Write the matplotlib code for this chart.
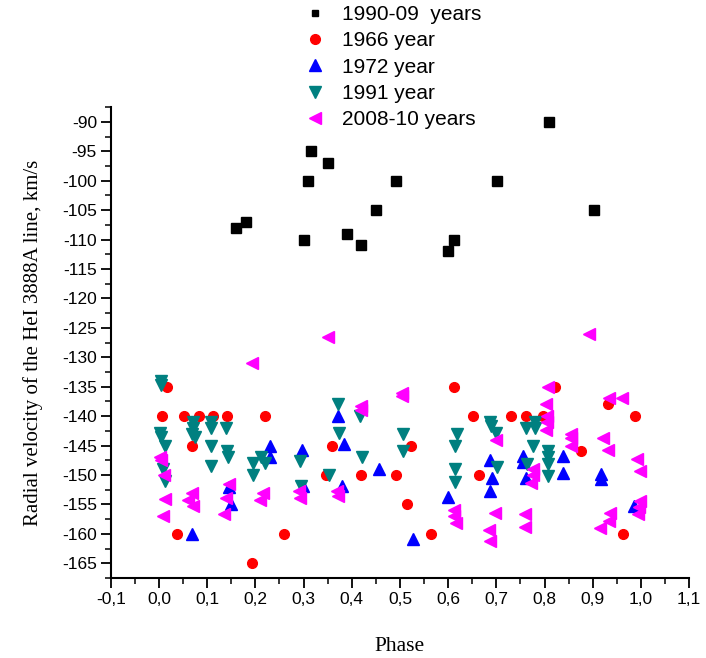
import matplotlib
matplotlib.use('Agg')
import matplotlib.pyplot as plt
from matplotlib.ticker import MultipleLocator, FuncFormatter

plt.rcParams['font.family'] = ['Liberation Sans', 'DejaVu Sans']
plt.rcParams['axes.unicode_minus'] = False

# 1990-09 years
ph_9009 = [0.16, 0.18, 0.30, 0.31, 0.315, 0.35, 0.39, 0.42, 0.451, 0.491, 0.60, 0.613, 0.702, 0.81, 0.903]
rv_9009 = [-108, -107, -110, -100, -95, -97, -109, -111, -105, -100, -112, -110, -100, -90, -105]

# 1966 year
ph_1966 = [0.017, 0.007, 0.051, 0.083, 0.112, 0.142, 0.219, 0.069, 0.037, 0.26, 0.193, 0.36, 0.347,
           0.419, 0.492, 0.523, 0.515, 0.565, 0.613, 0.651, 0.665, 0.73, 0.7625, 0.796, 0.821,
           0.875, 0.931, 0.988, 0.9625]
rv_1966 = [-135, -140, -140, -140, -140, -140, -140, -145, -160, -160, -165, -145, -150,
           -150, -150, -145, -155, -160, -135, -140, -150, -140, -140, -140, -135,
           -146, -138, -140, -160]

# 1972 year
ph_1972 = [0.069, 0.231, 0.231, 0.146, 0.15, 0.372, 0.384, 0.297, 0.457, 0.299, 0.38, 0.528,
           0.599, 0.6875, 0.692, 0.6875, 0.756, 0.756, 0.7625, 0.839, 0.839, 0.917, 0.917, 0.985]
rv_1972 = [-160, -145, -147, -152, -155, -140, -144.8, -145.8, -148.9, -151.9, -151.9, -160.9,
           -153.8, -147.4, -150.5, -152.8, -146.7, -147.8, -150.5, -146.8, -149.7, -149.9, -150.7, -155.3]

# 1991 year
ph_1991 = [0.004, 0.004, 0.002, 0.005, 0.012, 0.009, 0.012, 0.071, 0.071, 0.068, 0.074, 0.108,
           0.108, 0.138, 0.108, 0.108, 0.142, 0.144, 0.194, 0.194, 0.2125, 0.219, 0.372, 0.417,
           0.374, 0.292, 0.421, 0.507, 0.507, 0.353, 0.294, 0.618, 0.615, 0.615, 0.615, 0.686,
           0.69, 0.7, 0.701, 0.7625, 0.78, 0.78, 0.776, 0.764, 0.808, 0.808, 0.808, 0.808]
rv_1991 = [-134, -134.7, -142.8, -143.5, -145, -149, -151, -141, -142, -143, -143.5, -141,
           -142, -142, -145, -148.5, -146, -147, -148, -150, -147, -148, -138, -140,
           -142.8, -147.6, -147, -143, -146, -150, -151.8, -143, -145, -149, -151.2, -141,
           -141.6, -142.8, -148.7, -142, -141, -142, -145, -148.2, -146, -147, -148.1, -150.1]

# 2008-10 years
ph_0810 = [0.35, 0.193, 0.002, 0.004, 0.01, 0.0125, 0.009, 0.068, 0.061, 0.071, 0.146, 0.14,
           0.134, 0.215, 0.21, 0.504, 0.505, 0.419, 0.419, 0.29, 0.292, 0.37, 0.372,
           0.808, 0.803, 0.806, 0.806, 0.804, 0.7, 0.776, 0.776, 0.773, 0.613, 0.613, 0.617,
           0.698, 0.684, 0.686, 0.76, 0.76, 0.892, 0.933, 0.96, 0.856, 0.856, 0.856, 0.922,
           0.931, 0.992, 0.999, 0.999, 0.996, 0.994, 0.936, 0.933, 0.915]
rv_0810 = [-126.5, -131, -147, -147.5, -150, -154, -157, -153, -154.3, -155.3, -151.6, -153.9,
           -156.7, -153, -154.3, -136, -136.5, -138.3, -139, -152.8, -153.9, -152.8, -153.6,
           -135, -137.9, -140, -141, -142.3, -144, -149, -150, -151.3, -155.9, -157, -158.1,
           -156.4, -159.3, -161.3, -156.7, -158.8, -126, -137, -137, -143.1, -143.8, -145, -143.8,
           -145.8, -147.2, -149.4, -154.5, -155.5, -156.7, -156.4, -157.9, -159]

fig = plt.figure(figsize=(7.06, 6.58), dpi=100)
ax = fig.add_axes([0.157, 0.1216, 0.819, 0.7156])

ax.plot(ph_9009, rv_9009, 's', color='black', ms=6.5, ls='none', label='1990-09  years')
ax.plot(ph_1966, rv_1966, 'o', color='#ff0000', ms=7, ls='none', label='1966 year')
ax.plot(ph_1972, rv_1972, '^', color='#0000ff', ms=8, ls='none', label='1972 year')
ax.plot(ph_1991, rv_1991, 'v', color='#008080', ms=8, ls='none', label='1991 year')
ax.plot(ph_0810, rv_0810, '<', color='#ff00ff', ms=8, ls='none', label='2008-10 years')

ax.set_xlim(-0.1, 1.1)
ax.set_ylim(-167.5, -87.5)
ax.xaxis.set_major_locator(MultipleLocator(0.1))
ax.xaxis.set_minor_locator(MultipleLocator(0.05))
ax.yaxis.set_minor_locator(MultipleLocator(2.5))
ax.xaxis.set_major_formatter(FuncFormatter(lambda v, p: ('%.1f' % v).replace('.', ',')))
ax.set_yticks(range(-165, -89, 5))

for s in ['top', 'right']:
    ax.spines[s].set_visible(False)
for s in ['left', 'bottom']:
    ax.spines[s].set_linewidth(1.5)
ax.tick_params(which='major', direction='out', length=7, width=1.3, labelsize=12.5, pad=3)
ax.tick_params(which='minor', direction='out', length=4, width=1.1)

ax.set_xlabel('Phase', family=['Liberation Serif'], fontsize=15.5, labelpad=22)
ax.set_ylabel('Radial velocity of the HeI 3888A line, km/s', family=['Liberation Serif'], fontsize=15, labelpad=14)

leg = fig.legend(loc='upper left', bbox_to_anchor=(0.42, 1.005), frameon=False, fontsize=15,
                 handlelength=1.0, handletextpad=0.8, labelspacing=0.35, borderaxespad=0)
leg.legend_handles[0].set_markersize(4.5)

fig.savefig('out.png', dpi=100)
